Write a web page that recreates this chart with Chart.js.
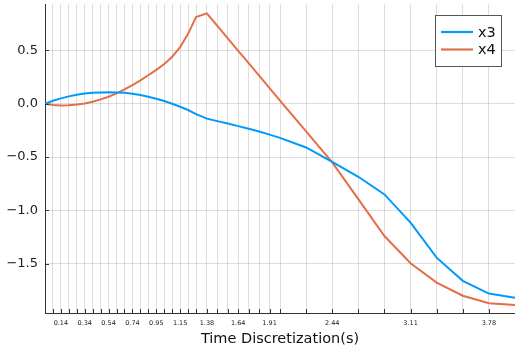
<!DOCTYPE html>
<html>
<head>
<meta charset="utf-8">
<script src="https://cdn.jsdelivr.net/npm/chart.js@4/dist/chart.umd.min.js"></script>
<style>
html,body{margin:0;padding:0;background:#fff;}
#wrap{width:515px;height:354px;position:relative;}
</style>
</head>
<body>
<div id="wrap"><canvas id="c" width="515" height="354"></canvas></div>
<script>
const times = [0, 0.0677, 0.1353, 0.2030, 0.2706, 0.3383, 0.4059, 0.4736, 0.5412, 0.6089, 0.6765,
  0.7442, 0.8118, 0.8795, 0.9471, 1.0148, 1.0824, 1.1501, 1.2177, 1.2854, 1.3780,
  1.4667, 1.5556, 1.6444, 1.7333, 1.8222, 1.9111, 2.0000, 2.2222, 2.4444, 2.6667,
  2.8889, 3.1111, 3.3333, 3.5556, 3.7778, 4.0000];
const x3 = [0, 0.028, 0.050, 0.069, 0.084, 0.096, 0.103, 0.106, 0.107, 0.106, 0.102,
  0.094, 0.082, 0.066, 0.047, 0.025, 0.000, -0.028, -0.059, -0.097, -0.140,
  -0.163, -0.186, -0.210, -0.235, -0.260, -0.290, -0.320, -0.410, -0.545, -0.685,
  -0.850, -1.115, -1.443, -1.660, -1.780, -1.820];
const x4 = [0, -0.012, -0.016, -0.015, -0.008, 0.002, 0.019, 0.041, 0.066, 0.097, 0.134,
  0.175, 0.219, 0.267, 0.318, 0.372, 0.440, 0.530, 0.655, 0.812, 0.847,
  0.730, 0.613, 0.496, 0.380, 0.263, 0.146, 0.030, -0.260, -0.550, -0.895,
  -1.240, -1.496, -1.677, -1.800, -1.870, -1.887];
const xTickLabels = ["0.14","0.34","0.54","0.74","0.95","1.15","1.38","1.64","1.91","2.44","3.11","3.78"];
const yTicks = [-1.5, -1.0, -0.5, 0.0, 0.5];
const yTickLabels = ["\u22121.5","\u22121.0","\u22120.5","0.0","0.5"];
const seriesNames = ["x3","x4"];
const seriesColors = ["#009AFA","#E36F47"];

const FONT = "'DejaVu Sans', sans-serif";

const tickPlugin = {
  id: 'inwardTicks',
  afterDraw(chart) {
    const ctx = chart.ctx;
    const xs = chart.scales.x, ys = chart.scales.y;
    const ca = chart.chartArea;
    ctx.save();
    ctx.strokeStyle = '#333';
    ctx.lineWidth = 1;
    ctx.beginPath();
    xs.ticks.forEach(t => {
      const px = Math.round(xs.getPixelForValue(t.value)) + 0.5;
      ctx.moveTo(px, ca.bottom);
      ctx.lineTo(px, ca.bottom - 4);
    });
    ys.ticks.forEach(t => {
      const py = Math.round(ys.getPixelForValue(t.value)) + 0.5;
      ctx.moveTo(ca.left, py);
      ctx.lineTo(ca.left + 4, py);
    });
    ctx.stroke();

    // legend
    const bx = 435.5, by = 15.5, bw = 66, bh = 51;
    ctx.fillStyle = '#fff';
    ctx.fillRect(bx, by, bw, bh);
    ctx.strokeStyle = '#555';
    ctx.lineWidth = 1;
    ctx.strokeRect(bx, by, bw, bh);
    chart.data.datasets.forEach((ds, i) => {
      const ly = 32 + i * 17.5;
      ctx.strokeStyle = ds.borderColor;
      ctx.lineWidth = 2.2;
      ctx.beginPath();
      ctx.moveTo(441, ly);
      ctx.lineTo(473, ly);
      ctx.stroke();
      ctx.fillStyle = '#111';
      ctx.font = "14.5px " + FONT;
      ctx.textBaseline = 'middle';
      ctx.textAlign = 'left';
      ctx.fillText(ds.label, 478, ly + 1);
    });
    ctx.restore();
  }
};

const datasets = [x3, x4].map((arr, i) => ({
  label: seriesNames[i],
  data: times.map((t, k) => ({x: t, y: arr[k]})),
  borderColor: seriesColors[i],
  backgroundColor: seriesColors[i],
  borderWidth: 2,
  pointRadius: 0,
  showLine: true,
  tension: 0,
  fill: false
}));

new Chart(document.getElementById('c'), {
  type: 'scatter',
  data: { datasets },
  options: {
    responsive: false,
    animation: false,
    layout: { padding: { left: 0, right: 0, top: 4, bottom: 0 } },
    plugins: { legend: { display: false }, tooltip: { enabled: false } },
    scales: {
      x: {
        type: 'linear',
        min: 0, max: 4.0,
        afterBuildTicks(scale) { scale.ticks = times.slice(1).map(v => ({value: v})); },
        afterFit(scale) { scale.height = 41; scale.paddingLeft = 0; scale.paddingRight = 0; },
        grid: { color: 'rgba(0,0,0,0.13)', lineWidth: 1, drawTicks: false },
        border: { display: true, color: '#333', width: 1 },
        ticks: {
          autoSkip: false, maxRotation: 0, minRotation: 0, padding: 6,
          color: '#222',
          font: { family: FONT, size: 6.5 },
          callback(v) { const s = Number(v).toFixed(2); return xTickLabels.includes(s) ? s : ''; }
        },
        title: {
          display: true, text: 'Time Discretization(s)', color: '#111',
          font: { family: FONT, size: 14.5 },
          padding: { top: 0, bottom: 6 }
        }
      },
      y: {
        type: 'linear',
        min: -1.962, max: 0.935,
        afterBuildTicks(scale) { scale.ticks = yTicks.map(v => ({value: v})); },
        afterFit(scale) { scale.width = 45; scale.paddingTop = 0; scale.paddingBottom = 0; },
        grid: { color: 'rgba(0,0,0,0.13)', lineWidth: 1, drawTicks: false },
        border: { display: true, color: '#333', width: 1 },
        ticks: {
          padding: 7, color: '#222',
          font: { family: FONT, size: 13 },
          callback(v) { const i = yTicks.indexOf(Number(v)); return i >= 0 ? yTickLabels[i] : ''; }
        }
      }
    }
  },
  plugins: [tickPlugin]
});
</script>
</body>
</html>
